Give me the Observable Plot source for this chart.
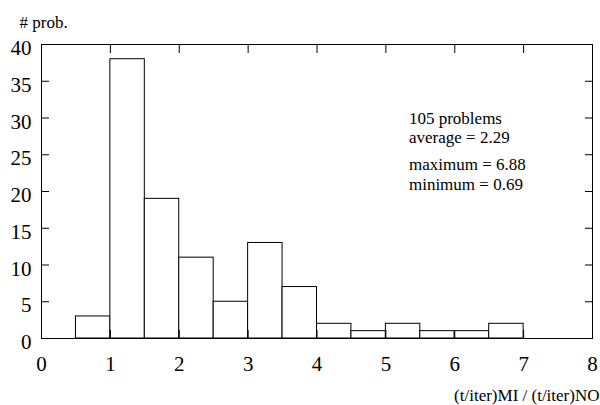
<!DOCTYPE html>
<html>
<head>
<meta charset="utf-8">
<script src="https://cdn.jsdelivr.net/npm/d3@7"></script>
<script src="https://cdn.jsdelivr.net/npm/@observablehq/plot@0.6"></script>
<style>
  html, body { margin: 0; padding: 0; background: #fff; }
  #chart { width: 600px; height: 405px; }
  #chart svg, #chart svg text { font-family: "Liberation Serif", "Times New Roman", serif !important; }
</style>
</head>
<body>
<div id="chart"></div>
<script>
const binStarts = [0, 0.5, 1, 1.5, 2, 2.5, 3, 3.5, 4, 4.5, 5, 5.5, 6, 6.5, 7, 7.5];
const binWidth = 0.5;
const counts = [0, 3, 38, 19, 11, 5, 13, 7, 2, 1, 2, 1, 1, 2, 0, 0];
const xTicks = [0, 1, 2, 3, 4, 5, 6, 7, 8];
const yTicks = [0, 5, 10, 15, 20, 25, 30, 35, 40];
const statsLines = ["105 problems", "average = 2.29", "maximum = 6.88", "minimum = 0.69"];
const statsY = [29.2, 26.55, 22.95, 20.25];
const statsX = 5.335;
const yLabel = "# prob.";
const xLabel = "(t/iter)MI / (t/iter)NO";

const bars = binStarts.map((s, i) => ({x1: s, x2: s + binWidth, y: counts[i]}));
const stats = statsLines.map((t, i) => ({t, x: statsX, y: statsY[i]}));

const font = "Liberation Serif, Times New Roman, serif";

const plot = Plot.plot({
  width: 600,
  height: 405,
  marginLeft: 41,
  marginRight: 8,
  marginTop: 44,
  marginBottom: 67,
  style: {fontFamily: font, background: "#fff", color: "#000"},
  x: {domain: [0, 8]},
  y: {domain: [0, 40]},
  marks: [
    Plot.rectY(bars.filter(d => d.y > 0), {x1: "x1", x2: "x2", y: "y", fill: "white", stroke: "black", strokeWidth: 1}),
    Plot.frame({stroke: "black", strokeWidth: 1}),
    Plot.axisX(xTicks, {anchor: "bottom", tickSize: 0, tickPadding: 18, fontSize: 21, fontFamily: font, label: null}),
    Plot.axisY(yTicks, {anchor: "left", tickSize: 0, tickPadding: 10, dy: 4, fontSize: 21, fontFamily: font, label: null}),
    Plot.axisX(xTicks, {anchor: "bottom", tickSize: 8, dy: -8, text: null, label: null}),
    Plot.axisX(xTicks, {anchor: "top", tickSize: 8, dy: 8, text: null, label: null}),
    Plot.axisY(yTicks, {anchor: "left", tickSize: 8, dx: 8, text: null, label: null}),
    Plot.axisY(yTicks, {anchor: "right", tickSize: 8, dx: -8, text: null, label: null}),
    Plot.text(stats, {x: "x", y: "y", text: "t", textAnchor: "start", lineAnchor: "bottom", fontSize: 17, fontFamily: font, fill: "black"}),
    Plot.text([yLabel], {frameAnchor: "top-left", dx: -22, dy: -17, textAnchor: "start", lineAnchor: "bottom", fontSize: 17, fontFamily: font, fill: "black"}),
    Plot.text([xLabel], {frameAnchor: "bottom-right", dx: 7, dy: 62, textAnchor: "end", lineAnchor: "bottom", fontSize: 17, fontFamily: font, fill: "black"})
  ]
});
document.getElementById("chart").appendChild(plot);
</script>
</body>
</html>
